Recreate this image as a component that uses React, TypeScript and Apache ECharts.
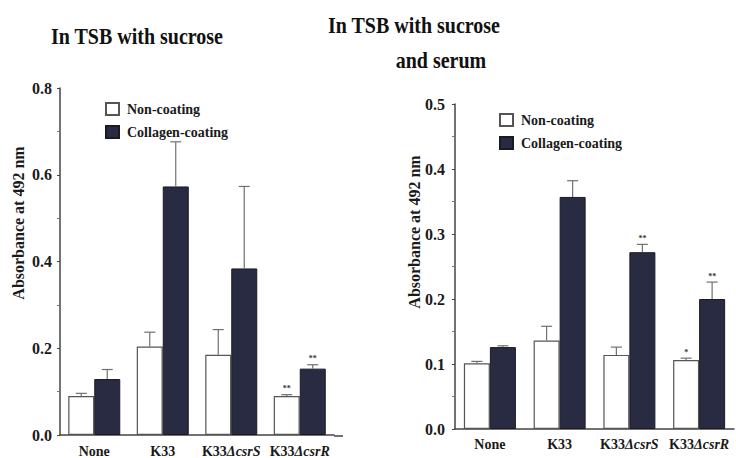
import React, { useEffect, useRef } from "react";
import * as echarts from "echarts";

const categories = ["None", "K33", "K33ΔcsrS", "K33ΔcsrR"];

// Left panel: In TSB with sucrose
const leftNonCoating = [0.09, 0.204, 0.185, 0.09];
const leftNonCoatingErr = [0.006, 0.033, 0.058, 0.003];
const leftCollagen = [0.129, 0.573, 0.384, 0.153];
const leftCollagenErr = [0.022, 0.103, 0.189, 0.009];
const leftNonSig = ["", "", "", "**"];
const leftColSig = ["", "", "", "**"];

// Right panel: In TSB with sucrose and serum
const rightNonCoating = [0.101, 0.136, 0.114, 0.106];
const rightNonCoatingErr = [0.003, 0.022, 0.012, 0.003];
const rightCollagen = [0.126, 0.357, 0.272, 0.2];
const rightCollagenErr = [0.002, 0.025, 0.012, 0.026];
const rightNonSig = ["", "", "", "*"];
const rightColSig = ["", "", "**", "**"];

const leftTicks = [0, 0.2, 0.4, 0.6, 0.8];
const rightTicks = [0, 0.1, 0.2, 0.3, 0.4, 0.5];

const FONT = "Liberation Serif, Times New Roman, serif";
const DARK = "#282b42";
const BAR_W = 26;
const TEXT = "#1a1a1a";

function errSeries(
  name: string,
  axisIndex: number,
  vals: number[],
  errs: number[],
  sigs: string[],
  offset: number
) {
  return {
    type: "custom",
    name: name + "-err",
    xAxisIndex: axisIndex,
    yAxisIndex: axisIndex,
    z: 5,
    silent: true,
    data: vals.map((v, i) => [i, v, errs[i]]),
    encode: { x: 0, y: 1 },
    renderItem: (params: any, api: any) => {
      const i = api.value(0);
      const v = api.value(1);
      const e = api.value(2);
      const sig = sigs[params.dataIndex];
      const base = api.coord([i, v]);
      const top = api.coord([i, v + e]);
      const x = base[0] + offset;
      const children: any[] = [
        {
          type: "line",
          shape: { x1: x, y1: base[1], x2: x, y2: top[1] },
          style: { stroke: "#707070", lineWidth: 1.2 },
        },
        {
          type: "line",
          shape: { x1: x - 5.5, y1: top[1], x2: x + 5.5, y2: top[1] },
          style: { stroke: "#707070", lineWidth: 1.2 },
        },
      ];
      if (sig) {
        children.push({
          type: "text",
          x: x,
          y: top[1] - 2,
          style: {
            text: sig,
            align: "center",
            verticalAlign: "bottom",
            fontFamily: FONT,
            fontWeight: "bold",
            fontSize: 8,
            fill: "#333",
          },
        });
      }
      return { type: "group", children };
    },
  };
}

function labelFormatter(v: string) {
  const idx = v.indexOf("Δ");
  if (idx >= 0) {
    return v.slice(0, idx) + "{i|" + v.slice(idx) + "}";
  }
  return v;
}

function xAxisCfg(gridIndex: number, margin: number) {
  return {
    type: "category",
    gridIndex,
    data: categories,
    axisLine: { show: true, lineStyle: { color: "#444", width: 1.5 } },
    axisTick: { show: false },
    axisLabel: {
      interval: 0,
      margin,
      color: TEXT,
      fontFamily: FONT,
      fontWeight: "bold",
      fontSize: 14,
      formatter: labelFormatter,
      rich: {
        i: {
          fontStyle: "italic",
          fontWeight: "bold",
          fontFamily: FONT,
          fontSize: 14,
          color: TEXT,
        },
      },
    },
  };
}

function yAxisCfg(gridIndex: number, ticks: number[], margin: number) {
  return {
    type: "value",
    gridIndex,
    min: ticks[0],
    max: ticks[ticks.length - 1],
    interval: ticks[1] - ticks[0],
    axisLine: { show: true, lineStyle: { color: "#444", width: 1.5 } },
    axisTick: { show: true, length: 3, lineStyle: { color: "#444" } },
    minorTick: { show: true, splitNumber: 2, length: 3, lineStyle: { color: "#777" } },
    splitLine: { show: false },
    axisLabel: {
      margin,
      color: TEXT,
      fontFamily: FONT,
      fontWeight: "bold",
      fontSize: 16,
      formatter: (v: number) => v.toFixed(1),
    },
  };
}

function barSeries(name: string, axisIndex: number, data: number[], dark: boolean) {
  return {
    type: "bar",
    name,
    xAxisIndex: axisIndex,
    yAxisIndex: axisIndex,
    data,
    barWidth: BAR_W,
    barGap: "0%",
    itemStyle: dark
      ? { color: DARK, borderColor: "#1a1a22", borderWidth: 1 }
      : { color: "#ffffff", borderColor: "#555", borderWidth: 1.2 },
  };
}

function legendCfg(left: number, top: number) {
  return {
    orient: "vertical",
    left,
    top,
    icon: "rect",
    itemWidth: 13,
    itemHeight: 12,
    itemGap: 9,
    data: ["Non-coating", "Collagen-coating"],
    selectedMode: false,
    textStyle: {
      fontFamily: FONT,
      fontWeight: "bold",
      fontSize: 14,
      color: TEXT,
      padding: [0, 0, 0, 3],
    },
  };
}

function titleText(text: string, x: number, y: number) {
  return {
    type: "text",
    x,
    y,
    scaleY: 1.2,
    style: {
      text,
      align: "center",
      verticalAlign: "middle",
      fontFamily: FONT,
      fontWeight: "bold",
      fontSize: 20,
      fill: "#111",
    },
  };
}

function yNameText(x: number, y: number) {
  return {
    type: "text",
    x,
    y,
    rotation: Math.PI / 2,
    style: {
      text: "Absorbance at 492 nm",
      align: "center",
      verticalAlign: "middle",
      fontFamily: FONT,
      fontWeight: "bold",
      fontSize: 16,
      fill: TEXT,
    },
  };
}

export default function App() {
  const ref = useRef<HTMLDivElement>(null);

  useEffect(() => {
    document.body.style.margin = "0";
    if (!ref.current) return;
    const chart = echarts.init(ref.current, null, { renderer: "svg" });
    chart.setOption({
      animation: false,
      backgroundColor: "#ffffff",
      grid: [
        { left: 60, top: 88, width: 274, height: 348 },
        { left: 455, top: 104, width: 279, height: 325 },
      ],
      xAxis: [xAxisCfg(0, 9), xAxisCfg(1, 8)],
      yAxis: [yAxisCfg(0, leftTicks, 8), yAxisCfg(1, rightTicks, 10)],
      legend: [legendCfg(100, 97), legendCfg(494, 108)],
      series: [
        barSeries("Non-coating", 0, leftNonCoating, false),
        barSeries("Collagen-coating", 0, leftCollagen, true),
        barSeries("Non-coating", 1, rightNonCoating, false),
        barSeries("Collagen-coating", 1, rightCollagen, true),
        errSeries("Non-coating", 0, leftNonCoating, leftNonCoatingErr, leftNonSig, -BAR_W / 2),
        errSeries("Collagen-coating", 0, leftCollagen, leftCollagenErr, leftColSig, BAR_W / 2),
        errSeries("Non-coating", 1, rightNonCoating, rightNonCoatingErr, rightNonSig, -BAR_W / 2),
        errSeries("Collagen-coating", 1, rightCollagen, rightCollagenErr, rightColSig, BAR_W / 2),
      ],
      graphic: [
        titleText("In TSB with sucrose", 137, 36),
        titleText("In TSB with sucrose", 414, 25),
        titleText("and serum", 441, 60),
        yNameText(18, 223),
        yNameText(414, 232),
        {
          type: "line",
          shape: { x1: 334, y1: 436, x2: 343, y2: 436 },
          style: { stroke: "#444", lineWidth: 1.5 },
        },
      ],
    });
    return () => chart.dispose();
  }, []);

  return <div ref={ref} style={{ width: 736, height: 458 }} />;
}
